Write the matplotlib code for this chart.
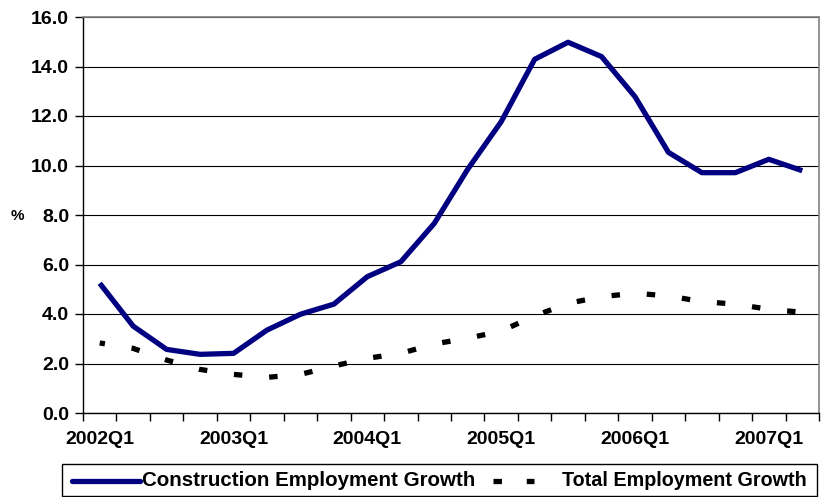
import matplotlib
matplotlib.use('Agg')
import matplotlib.pyplot as plt
from matplotlib.lines import Line2D
from matplotlib.patches import Rectangle
import numpy as np

plt.rcParams['font.family'] = ['Liberation Sans', 'DejaVu Sans']
plt.rcParams['font.weight'] = 'bold'

# quarterly series, 2002Q1 .. 2007Q2
quarters = [f'{y}Q{q}' for y in range(2002, 2008) for q in range(1, 5)][:22]
construction = [5.24, 3.51, 2.57, 2.37, 2.41, 3.35, 3.99, 4.40, 5.51, 6.11, 7.66,
                9.85, 11.77, 14.29, 14.98, 14.40, 12.78, 10.53, 9.71, 9.71, 10.25, 9.79]
total = [2.83, 2.61, 2.14, 1.76, 1.56, 1.44, 1.56, 1.90, 2.21, 2.41, 2.79,
         3.02, 3.31, 3.92, 4.43, 4.70, 4.84, 4.73, 4.50, 4.40, 4.19, 4.07]
series_names = ['Construction Employment Growth', 'Total Employment Growth']
yticks = np.arange(0, 16.1, 2.0)

W, H = 822, 497
fig = plt.figure(figsize=(W / 100, H / 100), dpi=100)
ax = fig.add_axes([83 / W, 1 - 413 / H, (819 - 83) / W, (413 - 17) / H])

navy = '#000080'
dash = (0.6, (1.6, 5.1))

x = np.arange(len(quarters))
ax.plot(x, construction, color=navy, lw=3.8, solid_capstyle='butt',
        solid_joinstyle='round', zorder=3)
ax.plot(x, total, color='black', lw=3.8, dash_capstyle='butt',
        linestyle=dash, zorder=3)

ax.set_xlim(-0.5, len(quarters) - 0.5)
ax.set_ylim(0, 16)
ax.set_yticks(yticks)
ax.set_yticklabels([f'{v:.1f}' for v in yticks])
ax.grid(axis='y', color='black', lw=0.8)
ax.set_axisbelow(True)

# tick marks sit between categories, labels on each Q1
ax.set_xticks(np.arange(-0.5, len(quarters), 1.0))
ax.set_xticklabels([])
ax.set_xticks(x[::4], minor=True)
ax.set_xticklabels(quarters[::4], minor=True)
ax.tick_params(axis='x', which='major', length=6, width=1, direction='out')
ax.tick_params(axis='x', which='minor', length=0, pad=13, labelsize=14)
ax.tick_params(axis='y', length=6, width=1, pad=4, labelsize=14)

for s in ('top', 'right'):
    ax.spines[s].set_color('#808080')
    ax.spines[s].set_linewidth(1.2)
for s in ('left', 'bottom'):
    ax.spines[s].set_color('black')
    ax.spines[s].set_linewidth(1.0)

fig.text(17 / W, 1 - 216 / H, '%', ha='center', va='center', fontsize=11)

# legend box along the bottom edge, laid out in pixels
def fx(px):
    return px / W

def fy(py):
    return 1 - py / H

fig.add_artist(Rectangle((fx(62), fy(496)), fx(817) - fx(62), fy(464) - fy(496),
                         transform=fig.transFigure, fill=False,
                         edgecolor='black', lw=1.0))
ly = fy(481)
fig.add_artist(Line2D([fx(72), fx(140)], [ly, ly], transform=fig.transFigure,
                      color=navy, lw=3.8, solid_capstyle='round'))
fig.text(fx(142), ly, series_names[0], ha='left', va='center', fontsize=14.8)
fig.add_artist(Line2D([fx(493), fx(534)], [ly, ly], transform=fig.transFigure,
                      color='black', lw=3.8, dash_capstyle='butt',
                      linestyle=(0, (1.6, 4.7))))
fig.text(fx(562), ly, series_names[1], ha='left', va='center', fontsize=14.2)

fig.savefig('out.png', dpi=100)
